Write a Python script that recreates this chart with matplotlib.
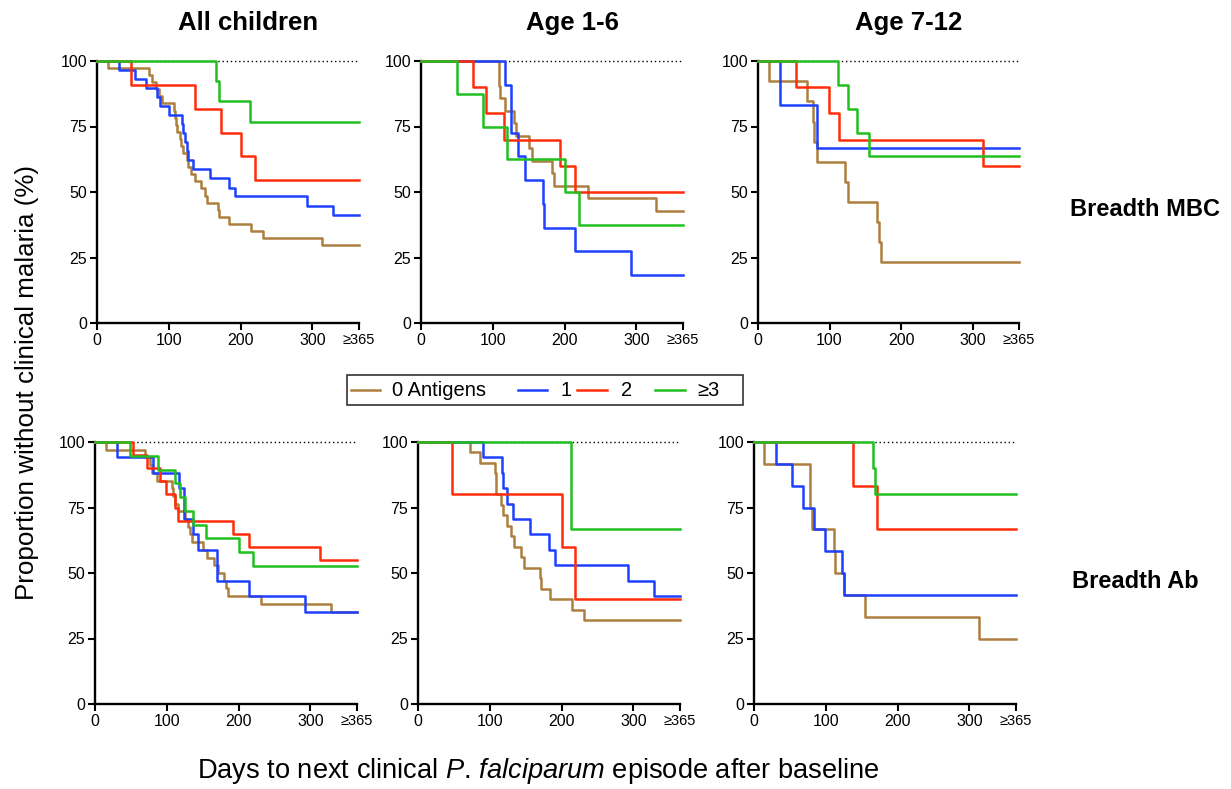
import matplotlib
matplotlib.use("Agg")
import matplotlib.pyplot as plt
from matplotlib.lines import Line2D
from matplotlib.patches import Rectangle

plt.rcParams['font.family'] = ['Liberation Sans', 'DejaVu Sans']
plt.rcParams['mathtext.fontset'] = 'custom'
plt.rcParams['mathtext.rm'] = 'Liberation Sans'
plt.rcParams['mathtext.it'] = 'Liberation Sans:italic'

# ---------------- data ----------------
groups = ["0 Antigens", "1", "2", "≥3"]
colors = ["#AD7F3E", "#1E40FF", "#FF2D0A", "#20C020"]
col_titles = ["All children", "Age 1-6", "Age 7-12"]
row_titles = ["Breadth MBC", "Breadth Ab"]
x_ticks = [0, 100, 200, 300, 365]
x_ticklabels = ["0", "100", "200", "300", "≥365"]
y_ticks = [0, 25, 50, 75, 100]

# Breadth MBC - All children
mbc_all_t0 = [15, 72, 77, 82, 86, 90, 107, 109, 110, 112, 115, 117, 120, 125, 127, 131, 137, 145, 150, 153, 168, 170, 184, 214, 231, 314]
mbc_all_s0 = [97.3, 94.6, 91.9, 89.2, 86.5, 83.8, 81.1, 78.4, 75.7, 73.0, 70.3, 67.6, 64.9, 62.2, 59.5, 56.8, 54.1, 51.4, 48.6, 45.9, 43.2, 40.5, 37.8, 35.1, 32.4, 29.7]
mbc_all_t1 = [30, 53, 68, 84, 88, 100, 118, 120, 122, 125, 127, 134, 157, 184, 192, 292, 329]
mbc_all_s1 = [96.6, 93.1, 89.7, 86.2, 82.8, 79.3, 75.9, 72.4, 69.0, 65.5, 62.1, 58.6, 55.2, 51.7, 48.3, 44.8, 41.4]
mbc_all_t2 = [48, 137, 173, 201, 220]
mbc_all_s2 = [90.9, 81.8, 72.7, 63.6, 54.5]
mbc_all_t3 = [166, 170, 213]
mbc_all_s3 = [92.3, 84.6, 76.9]

# Breadth MBC - Age 1-6
mbc_y_t0 = [109, 110, 117, 129, 133, 150, 155, 183, 185, 232, 328]
mbc_y_s0 = [90.5, 85.7, 81.0, 76.2, 71.4, 66.7, 61.9, 57.1, 52.4, 47.6, 42.9]
mbc_y_t1 = [117, 125, 135, 145, 170, 171, 214, 292]
mbc_y_s1 = [90.9, 72.7, 63.6, 54.5, 45.5, 36.4, 27.3, 18.2]
mbc_y_t2 = [73, 90, 115, 193, 214]
mbc_y_s2 = [90.0, 80.0, 70.0, 60.0, 50.0]
mbc_y_t3 = [50, 87, 120, 201, 220]
mbc_y_s3 = [87.5, 75.0, 62.5, 50.0, 37.5]

# Breadth MBC - Age 7-12
mbc_o_t0 = [15, 69, 77, 78, 83, 122, 126, 166, 169, 172]
mbc_o_s0 = [92.3, 84.6, 76.9, 69.2, 61.5, 53.8, 46.2, 38.5, 30.8, 23.1]
mbc_o_t1 = [31, 82]
mbc_o_s1 = [83.3, 66.7]
mbc_o_t2 = [53, 99, 113, 314]
mbc_o_s2 = [90.0, 80.0, 70.0, 60.0]
mbc_o_t3 = [112, 126, 138, 155]
mbc_o_s3 = [90.9, 81.8, 72.7, 63.6]

# Breadth Ab - All children
ab_all_t0 = [15, 70, 77, 80, 86, 107, 108, 112, 116, 126, 129, 132, 135, 150, 156, 166, 172, 180, 183, 185, 231, 329]
ab_all_s0 = [97.1, 94.1, 91.2, 88.2, 85.3, 82.4, 79.4, 76.5, 73.5, 70.6, 67.6, 64.7, 61.8, 58.8, 55.9, 52.9, 50.0, 47.1, 44.1, 41.2, 38.2, 35.3]
ab_all_t1 = [30, 81, 117, 124, 136, 144, 170, 215, 292]
ab_all_s1 = [94.1, 88.2, 82.4, 70.6, 64.7, 58.8, 47.1, 41.2, 35.3]
ab_all_t2 = [53, 73, 90, 99, 112, 116, 192, 214, 314]
ab_all_s2 = [95.0, 90.0, 85.0, 80.0, 75.0, 70.0, 65.0, 60.0, 55.0]
ab_all_t3 = [49, 88, 112, 119, 126, 137, 154, 201, 220]
ab_all_s3 = [94.7, 89.5, 84.2, 78.9, 73.7, 68.4, 63.2, 57.9, 52.6]

# Breadth Ab - Age 1-6
ab_y_t0 = [72, 87, 107, 108, 109, 115, 118, 124, 129, 134, 144, 148, 170, 171, 184, 214, 231]
ab_y_s0 = [96.0, 92.0, 88.0, 84.0, 80.0, 76.0, 72.0, 68.0, 64.0, 60.0, 56.0, 52.0, 48.0, 44.0, 40.0, 36.0, 32.0]
ab_y_t1 = [90, 117, 119, 124, 133, 156, 183, 191, 292, 329]
ab_y_s1 = [94.1, 88.2, 82.4, 76.5, 70.6, 64.7, 58.8, 52.9, 47.1, 41.2]
ab_y_t2 = [48, 201, 219]
ab_y_s2 = [80.0, 60.0, 40.0]
ab_y_t3 = [213]
ab_y_s3 = [66.7]

# Breadth Ab - Age 7-12
ab_o_t0 = [14, 78, 81, 112, 113, 126, 154, 314]
ab_o_s0 = [91.7, 75.0, 66.7, 58.3, 50.0, 41.7, 33.3, 25.0]
ab_o_t1 = [31, 53, 68, 84, 99, 123, 126]
ab_o_s1 = [91.7, 83.3, 75.0, 66.7, 58.3, 50.0, 41.7]
ab_o_t2 = [138, 172]
ab_o_s2 = [83.3, 66.7]
ab_o_t3 = [166, 169]
ab_o_s3 = [90.0, 80.0]

panels = [
    [(mbc_all_t0, mbc_all_s0), (mbc_all_t1, mbc_all_s1), (mbc_all_t2, mbc_all_s2), (mbc_all_t3, mbc_all_s3)],
    [(mbc_y_t0, mbc_y_s0), (mbc_y_t1, mbc_y_s1), (mbc_y_t2, mbc_y_s2), (mbc_y_t3, mbc_y_s3)],
    [(mbc_o_t0, mbc_o_s0), (mbc_o_t1, mbc_o_s1), (mbc_o_t2, mbc_o_s2), (mbc_o_t3, mbc_o_s3)],
    [(ab_all_t0, ab_all_s0), (ab_all_t1, ab_all_s1), (ab_all_t2, ab_all_s2), (ab_all_t3, ab_all_s3)],
    [(ab_y_t0, ab_y_s0), (ab_y_t1, ab_y_s1), (ab_y_t2, ab_y_s2), (ab_y_t3, ab_y_s3)],
    [(ab_o_t0, ab_o_s0), (ab_o_t1, ab_o_s1), (ab_o_t2, ab_o_s2), (ab_o_t3, ab_o_s3)],
]

# ---------------- layout ----------------
W, H = 1231, 789
fig = plt.figure(figsize=(W / 100, H / 100), dpi=100)

def fx(px):
    return px / W

def fy(py):
    return 1 - py / H

# pixel boxes: (x0, x_end, y_top, y_bottom)
boxes = [
    (97, 359, 61, 323), (421, 683, 61, 323), (758, 1019, 61, 323),
    (95, 357, 442, 704), (418, 680, 442, 704), (754, 1016, 442, 704),
]

for i, (x0, x1, yt, yb) in enumerate(boxes):
    ax = fig.add_axes([x0 / W, (H - yb) / H, (x1 - x0) / W, (yb - yt) / H])
    ax.set_xlim(0, 365)
    ax.set_ylim(0, 100)
    for s in ["top", "right"]:
        ax.spines[s].set_visible(False)
    for s in ["left", "bottom"]:
        ax.spines[s].set_linewidth(1.7)
    ax.set_xticks(x_ticks)
    ax.set_xticklabels(x_ticklabels)
    ax.set_yticks(y_ticks)
    ax.tick_params(axis="both", direction="out", length=5, width=1.5, labelsize=11.5, pad=2)
    ax.get_xticklabels()[-1].set_fontsize(10.5)
    ax.plot([0, 365], [100, 100], color="black", linestyle=(0, (1, 2)), linewidth=1.0, zorder=1, clip_on=False)
    for g, (t, s) in enumerate(panels[i]):
        xs = [0] + list(t) + [365]
        ys = [100] + list(s) + [s[-1]]
        ax.step(xs, ys, where="post", color=colors[g], linewidth=1.8, zorder=2 + g, clip_on=False)

# column titles
for j, title in enumerate(col_titles):
    x0, x1, yt, yb = boxes[j]
    fig.text(fx((x0 + x1) / 2 + 20), fy(23), title, ha="center", va="center", fontsize=18.5, fontweight="bold")

# row labels
fig.text(fx(1145), fy(209), row_titles[0], ha="center", va="center", fontsize=17, fontweight="bold")
fig.text(fx(1135), fy(582), row_titles[1], ha="center", va="center", fontsize=17, fontweight="bold")

# axis labels
fig.text(fx(27), fy(382), "Proportion without clinical malaria (%)", rotation=90,
         ha="center", va="center", fontsize=18.7)
fig.text(fx(538), fy(771), r"Days to next clinical $\it{P}$. $\it{falciparum}$ episode after baseline",
         ha="center", va="center", fontsize=19.6)

# legend (manually positioned like the reference)
fig.patches.append(Rectangle((fx(347), fy(405)), fx(743) - fx(347), fy(375) - fy(405),
                             transform=fig.transFigure, fill=False, edgecolor="#333333", linewidth=1.2))
handle_x = [(351, 380), (518, 547), (577, 607), (655, 685)]
text_x = [392, 561, 621, 697]
for g in range(4):
    fig.add_artist(Line2D([fx(handle_x[g][0]), fx(handle_x[g][1])], [fy(390), fy(390)],
                          transform=fig.transFigure, color=colors[g], linewidth=1.8))
    fig.text(fx(text_x[g]), fy(390), groups[g], ha="left", va="center", fontsize=14.5)

fig.savefig("out.png", dpi=100)
